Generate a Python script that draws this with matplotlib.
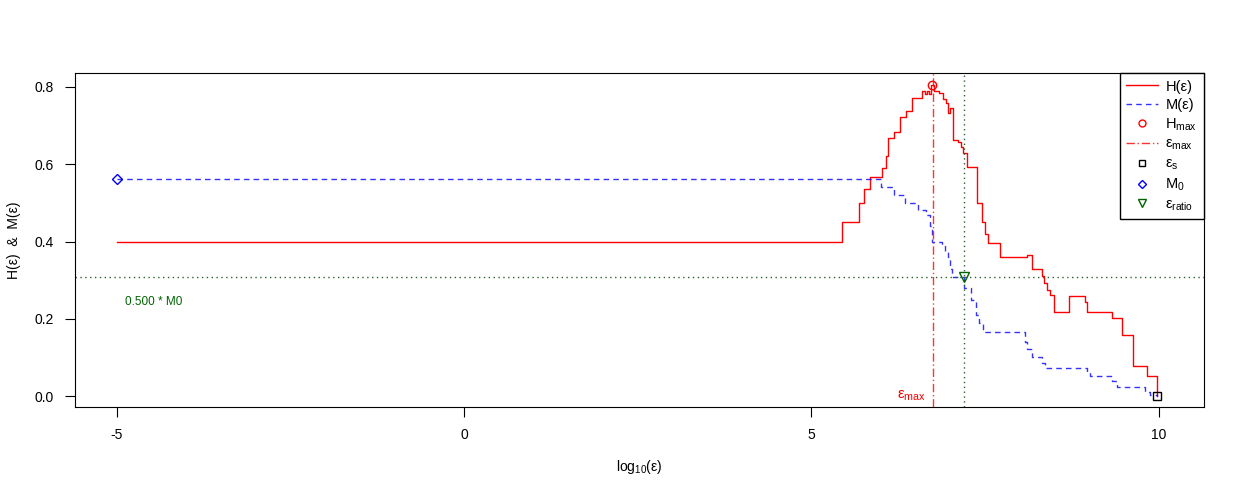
import numpy as np
import matplotlib
matplotlib.use('Agg')
import matplotlib.pyplot as plt
from matplotlib.lines import Line2D

plt.rcParams['font.family'] = ['Liberation Sans', 'DejaVu Sans']
plt.rcParams['mathtext.default'] = 'regular'

# H(eps) step function: x start of each level, level value
h_x = [-5.0, 5.44, 5.68, 5.76, 5.84, 6.02, 6.07, 6.10, 6.19, 6.28, 6.36, 6.44,
       6.59, 6.64, 6.66, 6.69, 6.72, 6.76, 6.84, 6.90, 6.94, 6.97, 7.00, 7.04,
       7.11, 7.15, 7.18, 7.24, 7.38, 7.46, 7.50, 7.54, 7.72, 8.10, 8.17, 8.32,
       8.35, 8.39, 8.44, 8.49, 8.70, 8.94, 8.97, 9.33, 9.47, 9.63, 9.83, 9.97, 9.98]
h_y = [0.399, 0.450, 0.500, 0.535, 0.568, 0.591, 0.621, 0.667, 0.684, 0.723, 0.738, 0.772,
       0.790, 0.782, 0.790, 0.782, 0.805, 0.790, 0.785, 0.770, 0.759, 0.733, 0.745, 0.663,
       0.658, 0.645, 0.628, 0.593, 0.500, 0.450, 0.420, 0.396, 0.361, 0.365, 0.330, 0.310,
       0.292, 0.275, 0.261, 0.218, 0.260, 0.244, 0.217, 0.201, 0.158, 0.078, 0.053, 0.0, 0.0]

# M(eps) step function
m_x = [-5.0, 6.00, 6.19, 6.35, 6.54, 6.65, 6.71, 6.74, 6.88, 6.92, 6.97, 7.00, 7.02,
       7.19, 7.29, 7.37, 7.41, 7.47, 8.08, 8.10, 8.18, 8.32, 8.36, 8.97, 9.01, 9.33,
       9.40, 9.80, 9.87, 9.98]
m_y = [0.562, 0.540, 0.520, 0.500, 0.482, 0.469, 0.440, 0.400, 0.391, 0.375, 0.361, 0.330, 0.309,
       0.279, 0.249, 0.210, 0.189, 0.165, 0.140, 0.123, 0.102, 0.085, 0.072, 0.062, 0.052, 0.040,
       0.024, 0.010, 0.003, 0.0]

h_max = (6.74, 0.805)
eps_max = 6.745
eps_s = (9.97, 0.0)
m0 = (-5.0, 0.562)
eps_ratio = (7.19, 0.309)
half_m0 = 0.308

fig = plt.figure(figsize=(12.42, 5.0), dpi=100)
ax = fig.add_axes([0.0604, 0.186, 0.9090, 0.668])

ax.step(h_x, h_y, where='post', color='red', lw=1)
ax.step(m_x, m_y, where='post', color='blue', lw=1, ls=(0, (4, 3)), alpha=0.8)

ax.axvline(eps_max, color='red', lw=1, ls=(0, (6, 2, 1, 2)), alpha=0.8)
ax.axvline(eps_ratio[0], color='#2f5f2f', lw=1, ls=(0, (1, 2.5)))
ax.axhline(half_m0, color='#2f5f2f', lw=1, ls=(0, (1, 2.5)))

ax.plot(*h_max, marker='o', ms=6, mfc='none', mec='red', ls='none')
ax.plot(*eps_s, marker='s', ms=6, mfc='none', mec='black', ls='none')
ax.plot(*m0, marker='D', ms=5.5, mfc='none', mec='blue', ls='none')
ax.plot(*eps_ratio, marker='v', ms=7, mfc='none', mec='darkgreen', ls='none')

ax.text(eps_max - 0.1, 0.0, 'ε$_{max}$', color='red', ha='right', va='center', fontsize=11)
ax.text(-4.88, 0.243, '0.500 * M0', color='darkgreen', ha='left', va='center', fontsize=8.5)

ax.set_xlim(-5.6, 10.65)
ax.set_ylim(-0.028, 0.836)
ax.set_xticks([-5, 0, 5, 10])
ax.set_xticklabels(['-5', '0', '5', '10'])
ax.set_yticks([0.0, 0.2, 0.4, 0.6, 0.8])
ax.set_yticklabels(['0.0', '0.2', '0.4', '0.6', '0.8'])
ax.tick_params(direction='out', length=7, labelsize=10, pad=8)
ax.set_xlabel('log$_{10}$(ε)', fontsize=10, labelpad=12)
ax.set_ylabel('H(ε)  &  M(ε)', fontsize=10, labelpad=10)

handles = [
    Line2D([], [], color='red', lw=1),
    Line2D([], [], color='blue', lw=1, ls=(0, (4, 3)), alpha=0.8),
    Line2D([], [], color='red', marker='o', mfc='none', ls='none', ms=5),
    Line2D([], [], color='red', lw=1, ls=(0, (6, 2, 1, 2)), alpha=0.8),
    Line2D([], [], color='black', marker='s', mfc='none', ls='none', ms=5),
    Line2D([], [], color='blue', marker='D', mfc='none', ls='none', ms=4.5),
    Line2D([], [], color='darkgreen', marker='v', mfc='none', ls='none', ms=6),
]
labels = ['H(ε)', 'M(ε)', 'H$_{max}$', 'ε$_{max}$', 'ε$_{s}$', 'M$_{0}$', 'ε$_{ratio}$']
leg = ax.legend(handles, labels, loc='upper right', borderaxespad=0, fancybox=False,
                edgecolor='black', framealpha=1, fontsize=10.5, handlelength=2.2,
                labelspacing=0.3, borderpad=0.45, handletextpad=0.5)
leg.get_frame().set_linewidth(1)

fig.savefig('out.png', dpi=100)
